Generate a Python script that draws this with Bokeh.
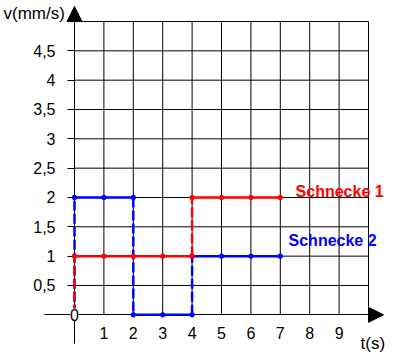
from bokeh.plotting import figure
from bokeh.models import Range1d, FixedTicker, Label, Arrow, NormalHead
from bokeh.embed import file_html
from bokeh.resources import INLINE

# ---- data ----
x_ticks = [1, 2, 3, 4, 5, 6, 7, 8, 9]
x_grid = [1, 2, 3, 4, 5, 6, 7, 8, 9, 10]
y_ticks = [0.5, 1, 1.5, 2, 2.5, 3, 3.5, 4, 4.5]
y_grid = [0.5, 1, 1.5, 2, 2.5, 3, 3.5, 4, 4.5, 5]
y_tick_labels = ["0,5", "1", "1,5", "2", "2,5", "3", "3,5", "4", "4,5"]

# Schnecke 1 (red): speed intervals
s1_start = [0, 4]
s1_end = [4, 7]
s1_v = [1, 2]
s1_pts_t = [0, 1, 2, 3, 4, 4, 5, 6, 7]
s1_pts_v = [1, 1, 1, 1, 1, 2, 2, 2, 2]

# Schnecke 2 (blue)
s2_start = [0, 2, 4]
s2_end = [2, 4, 7]
s2_v = [2, 0, 1]
s2_pts_t = [0, 1, 2, 2, 3, 4, 4, 5, 6, 7]
s2_pts_v = [2, 2, 2, 0, 0, 0, 1, 1, 1, 1]

names = ["Schnecke 1", "Schnecke 2"]
colors = ["#ff0000", "#0000ff"]

FONT = "Liberation Sans"

p = figure(width=395, height=358,
           x_range=Range1d(-2.517, 10.918), y_range=Range1d(-0.745, 5.358),
           output_backend="svg", toolbar_location=None, min_border=0,
           outline_line_color=None)
p.grid.visible = False

# grid lines
p.segment(x0=x_grid, y0=[0] * len(x_grid), x1=x_grid, y1=[5] * len(x_grid),
          line_color="black", line_width=1, level="underlay")
p.segment(x0=[0] * len(y_grid), y0=y_grid, x1=[10] * len(y_grid), y1=y_grid,
          line_color="black", line_width=1, level="underlay")

# axes
xa = p.xaxis[0]
xa.fixed_location = 0
xa.bounds = (-1.02, 10)
xa.ticker = FixedTicker(ticks=x_ticks)
xa.major_tick_out = 0
xa.major_tick_in = 0
xa.minor_tick_out = 0
xa.minor_tick_in = 0
xa.axis_line_color = "black"
xa.axis_line_width = 1
xa.major_label_standoff = 12
xa.major_label_text_font = FONT
xa.major_label_text_font_size = "16px"
xa.major_label_text_color = "black"
xa.level = "underlay"

ya = p.yaxis[0]
ya.fixed_location = 0
ya.bounds = (-0.49, 5)
ya.ticker = FixedTicker(ticks=y_ticks)
ya.major_label_overrides = {t: l for t, l in zip(y_ticks, y_tick_labels)}
ya.major_tick_out = 7
ya.major_tick_in = 0
ya.minor_tick_out = 0
ya.minor_tick_in = 0
ya.major_tick_line_color = "black"
ya.axis_line_color = "black"
ya.axis_line_width = 1
ya.major_label_standoff = 12
ya.major_label_text_font = FONT
ya.major_label_text_font_size = "16px"
ya.major_label_text_color = "black"
ya.level = "underlay"

# arrows
p.add_layout(Arrow(end=NormalHead(size=15, fill_color="black", line_color="black"),
                   x_start=0, y_start=5, x_end=0, y_end=5.255, line_color="black", line_width=1))
p.add_layout(Arrow(end=NormalHead(size=15, fill_color="black", line_color="black"),
                   x_start=10, y_start=0, x_end=10.51, y_end=0, line_color="black", line_width=1))


def draw(start, end, v, pts_t, pts_v, color):
    # horizontal solid parts
    p.segment(x0=start, y0=v, x1=end, y1=v, line_color=color, line_width=2.5)
    # vertical dashed jumps
    prev = [0] + v[:-1]
    p.segment(x0=start, y0=prev, x1=start, y1=v, line_color=color, line_width=2.5,
              line_dash="10 3")
    p.scatter(pts_t, pts_v, size=4.5, color=color, marker="circle")


draw(s2_start, s2_end, s2_v, s2_pts_t, s2_pts_v, colors[1])
draw(s1_start, s1_end, s1_v, s1_pts_t, s1_pts_v, colors[0])

# series labels
p.add_layout(Label(x=7.52, y=2.102, text=names[0], text_color=colors[0],
                   text_font=FONT, text_font_size="16px", text_font_style="bold",
                   text_baseline="middle"))
p.add_layout(Label(x=7.28, y=1.275, text=names[1], text_color=colors[1],
                   text_font=FONT, text_font_size="16px", text_font_style="bold",
                   text_baseline="middle"))

# origin label
p.add_layout(Label(x=0, y=0, text="0", text_align="center", text_baseline="middle",
                   text_font=FONT, text_font_size="16px", text_color="black",
                   background_fill_color="white", background_fill_alpha=1.0))

# axis titles
p.add_layout(Label(x=-2.415, y=5.128, text="v(mm/s)", text_font=FONT,
                   text_font_size="17px", text_color="black", text_baseline="middle"))
p.add_layout(Label(x=9.728, y=-0.489, text="t(s)", text_font=FONT,
                   text_font_size="17px", text_color="black", text_baseline="middle"))

open("out.html", "w").write(file_html(p, INLINE))
